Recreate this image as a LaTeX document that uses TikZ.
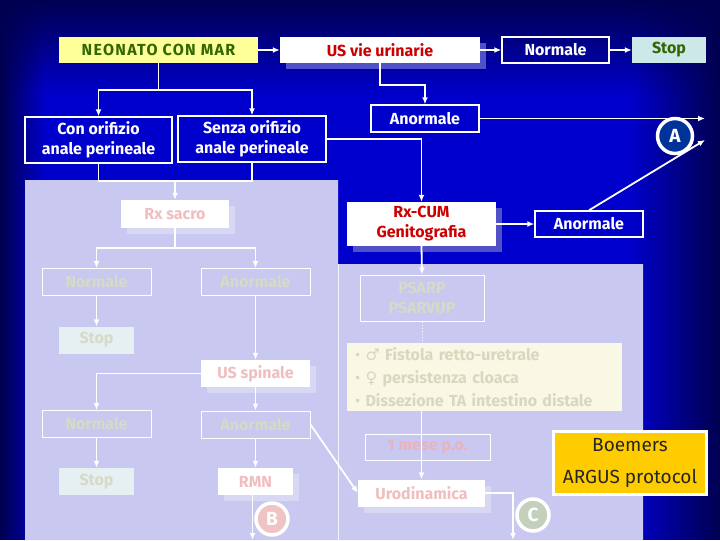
\documentclass[tikz,border=0pt]{standalone}
\usepackage{fontspec}
\setmainfont{Fira Sans}
\newfontfamily\symfont{DejaVu Sans}
\usetikzlibrary{arrows.meta,positioning,shadows,fadings}
\definecolor{SlideNavy}{HTML}{000050}
\definecolor{SlideBlue}{HTML}{0000CC}
\definecolor{PanelLilac}{HTML}{C8C8F0}
\definecolor{MarYellow}{HTML}{FFFF99}
\definecolor{MarGreen}{HTML}{336600}
\definecolor{UsRed}{HTML}{CC0000}
\definecolor{UsShadow}{HTML}{5050C8}
\definecolor{StopCyan}{HTML}{CCE8E8}
\definecolor{FadeText}{HTML}{D6DAC6}
\definecolor{FadeRed}{HTML}{F0BEBE}
\definecolor{MeseRed}{HTML}{ECB2BC}
\definecolor{FadeShadow}{HTML}{D8D8F4}
\definecolor{FadeStop}{HTML}{E6F0F2}
\definecolor{ListFill}{HTML}{F8F8E4}
\definecolor{ListText}{HTML}{D8D8C0}
\definecolor{BFill}{HTML}{F0C4C4}
\definecolor{CFill}{HTML}{C4D0BC}
\definecolor{AFill}{HTML}{003399}
\definecolor{BoemGold}{HTML}{FFCC00}
\tikzfading[name=EdgeLeft,left color=transparent!0,right color=transparent!100]
\tikzfading[name=EdgeRight,left color=transparent!100,right color=transparent!0]
\tikzfading[name=EdgeTop,top color=transparent!0,bottom color=transparent!100]

\begin{document}
\begin{tikzpicture}[x=1pt,y=-1pt,
  every node/.style={inner sep=0pt,align=center,font=\fontsize{16}{20}\selectfont\bfseries},
  topbox/.style={draw=white,line width=1.4pt,text=white,minimum height=26pt},
  whitebox/.style={fill=white,text=UsRed,drop shadow={shadow xshift=6pt,shadow yshift=-6pt,fill=UsShadow,opacity=1}},
  fadebox/.style={draw=white,line width=1pt,text=FadeText,minimum height=27pt},
  fadewhite/.style={fill=white,text=FadeRed,minimum height=27pt,drop shadow={shadow xshift=6pt,shadow yshift=-6pt,fill=FadeShadow,opacity=1}},
  fadestop/.style={fill=FadeStop,text=FadeText,minimum width=75pt,minimum height=27pt},
  letter/.style={circle,draw=white,line width=3.5pt,text=white,minimum size=35pt,font=\fontsize{19}{19}\selectfont\bfseries},
  arrow/.style={-{Latex[length=7pt,width=6pt]},line width=1.8pt,draw=white},
  link/.style={line width=1.8pt,draw=white}
]
% slide background
\fill[SlideBlue] (0,0) rectangle (720,540);
\fill[SlideNavy,path fading=EdgeTop] (0,0) rectangle (720,95);
\fill[SlideNavy,path fading=EdgeLeft] (0,0) rectangle (45,540);
\fill[SlideNavy,path fading=EdgeRight] (630,0) rectangle (720,540);
\fill[PanelLilac] (25,180) -- (338,180) -- (338,264) -- (643,264) -- (643,540) -- (25,540) -- cycle;
\draw[white!80!PanelLilac,line width=1pt] (338,264) -- (338,540);

% top row
\node[fill=MarYellow,text=MarGreen,minimum width=199pt,minimum height=26pt,font=\fontsize{16}{20}\selectfont\bfseries\addfontfeatures{LetterSpace=8}] (neonato) at (158.5,50) {NEONATO CON MAR};
\node[whitebox,minimum width=200pt,minimum height=26pt] (usvie) at (380,50) {US vie urinarie};
\node[topbox,minimum width=107pt] (normtop) at (555.5,50) {Normale};
\node[fill=StopCyan,text=MarGreen,minimum width=74pt,minimum height=26pt] (stoptop) at (669,50) {Stop};
\node[topbox,minimum width=147pt,minimum height=46pt] (conorif) at (98.5,140) {Con orifizio\\anale perineale};
\node[topbox,minimum width=148pt,minimum height=46pt] (senzaorif) at (252,139) {Senza orifizio\\anale perineale};
\node[topbox,minimum width=108pt,minimum height=27pt] (anortop) at (425,118.5) {Anormale};
\node[whitebox,minimum width=149pt,minimum height=44pt] (rxcum) at (421.5,224) {Rx-CUM\\Genitografia};
\node[topbox,minimum width=108pt] (anormid) at (589,224) {Anormale};

% faded branch, left
\node[fadewhite,minimum width=108pt,minimum height=28pt] (rxsacro) at (175,214) {Rx sacro};
\node[fadebox,minimum width=109pt] (normA) at (96.5,282) {Normale};
\node[fadebox,minimum width=109pt] (anormA) at (255.5,282) {Anormale};
\node[fadestop] (stopA) at (96.5,340) {Stop};
\node[fadewhite,minimum width=109pt] (usspin) at (255.5,373.5) {US spinale};
\node[fadebox,minimum width=109pt] (normB) at (96.5,424) {Normale};
\node[fadebox,minimum width=109pt] (anormB) at (255.5,424.5) {Anormale};
\node[fadestop] (stopB) at (96.5,481.5) {Stop};
\node[fadewhite,minimum width=75pt] (rmn) at (255.5,481.5) {RMN};

% faded branch, right
\node[fadebox,minimum width=124pt,minimum height=46pt] (psarp) at (422,298) {PSARP\\PSARVUP};
\node[fill=ListFill,text=ListText,minimum width=275pt,minimum height=68pt,inner xsep=8pt,text width=259pt,align=left,font=\fontsize{16}{23}\selectfont\bfseries] (lista) at (484.5,377)
  {{\mdseries•} {\symfont\mdseries ♂} Fistola retto-uretrale\\{\mdseries•} {\symfont\mdseries ♀} persistenza cloaca\\{\mdseries•} Dissezione TA intestino distale};
\node[fadebox,minimum width=125pt,minimum height=26pt,text=MeseRed] (mese) at (427.5,447) {1 mese p.o.};
\node[fadewhite,minimum width=127pt] (urod) at (421.5,493) {Urodinamica};
\node[fill=BoemGold,draw=white,line width=3pt,text=black!85,minimum width=153pt,minimum height=63pt,font=\fontsize{19}{32}\selectfont] (boemers) at (630,463) {Boemers\\ARGUS protocol};

% connectors
\coordinate (toA) at (705,118.5);
\coordinate (toA2) at (705,140);
\coordinate (joinL) at (175,181);
\coordinate (toB) at (252.5,540);
\coordinate (toC) at (513,540);
\draw[arrow] (neonato) -- (usvie);
\draw[arrow] (usvie) -- (normtop);
\draw[arrow] (normtop) -- (stoptop);
\draw[arrow] (neonato.south) -- ++(0,27) -| (conorif.north);
\draw[arrow] (neonato.south) -- ++(0,27) -| (senzaorif.north);
\draw[arrow] (usvie.south) -- ++(0,22) -| (anortop.north);
\draw[arrow] (anortop.east) -- (toA);
\draw[arrow] (anormid.north) -- (toA2);
\draw[arrow] (senzaorif.east) -| (rxcum.north);
\draw[arrow] (rxcum) -- (anormid);
\draw[arrow] (rxcum.south) -- (psarp.north);
\draw[link,line width=1pt,dotted] (psarp.south) -- (psarp.south |- lista.north);
\draw[arrow] (urod.north |- lista.south) -- (urod.north);
\draw[arrow] (urod.east) -| (toC);
\draw[link] (conorif.south) |- (joinL) -| (senzaorif.south);
\draw[arrow] (joinL) -- (rxsacro.north);
\draw[arrow] (rxsacro.south) -- ++(0,20) -| (normA.north);
\draw[arrow] (rxsacro.south) -- ++(0,20) -| (anormA.north);
\draw[arrow] (normA) -- (stopA);
\draw[arrow] (anormA) -- (usspin);
\draw[arrow] (usspin.west) -| (normB.north);
\draw[arrow] (usspin) -- (anormB);
\draw[arrow] (normB) -- (stopB);
\draw[arrow] (anormB) -- (rmn);
\draw[arrow] ([xshift=-3pt]rmn.south) -- (toB);
\draw[arrow] (anormB.east) -- (urod.west);

% letters
\node[letter,fill=AFill] (lettA) at (675,136) {A};
\node[letter,fill=BFill,minimum size=32pt] (lettB) at (272,519) {B};
\node[letter,fill=CFill,minimum size=32pt] (lettC) at (533,515) {C};
\end{tikzpicture}
\end{document}
